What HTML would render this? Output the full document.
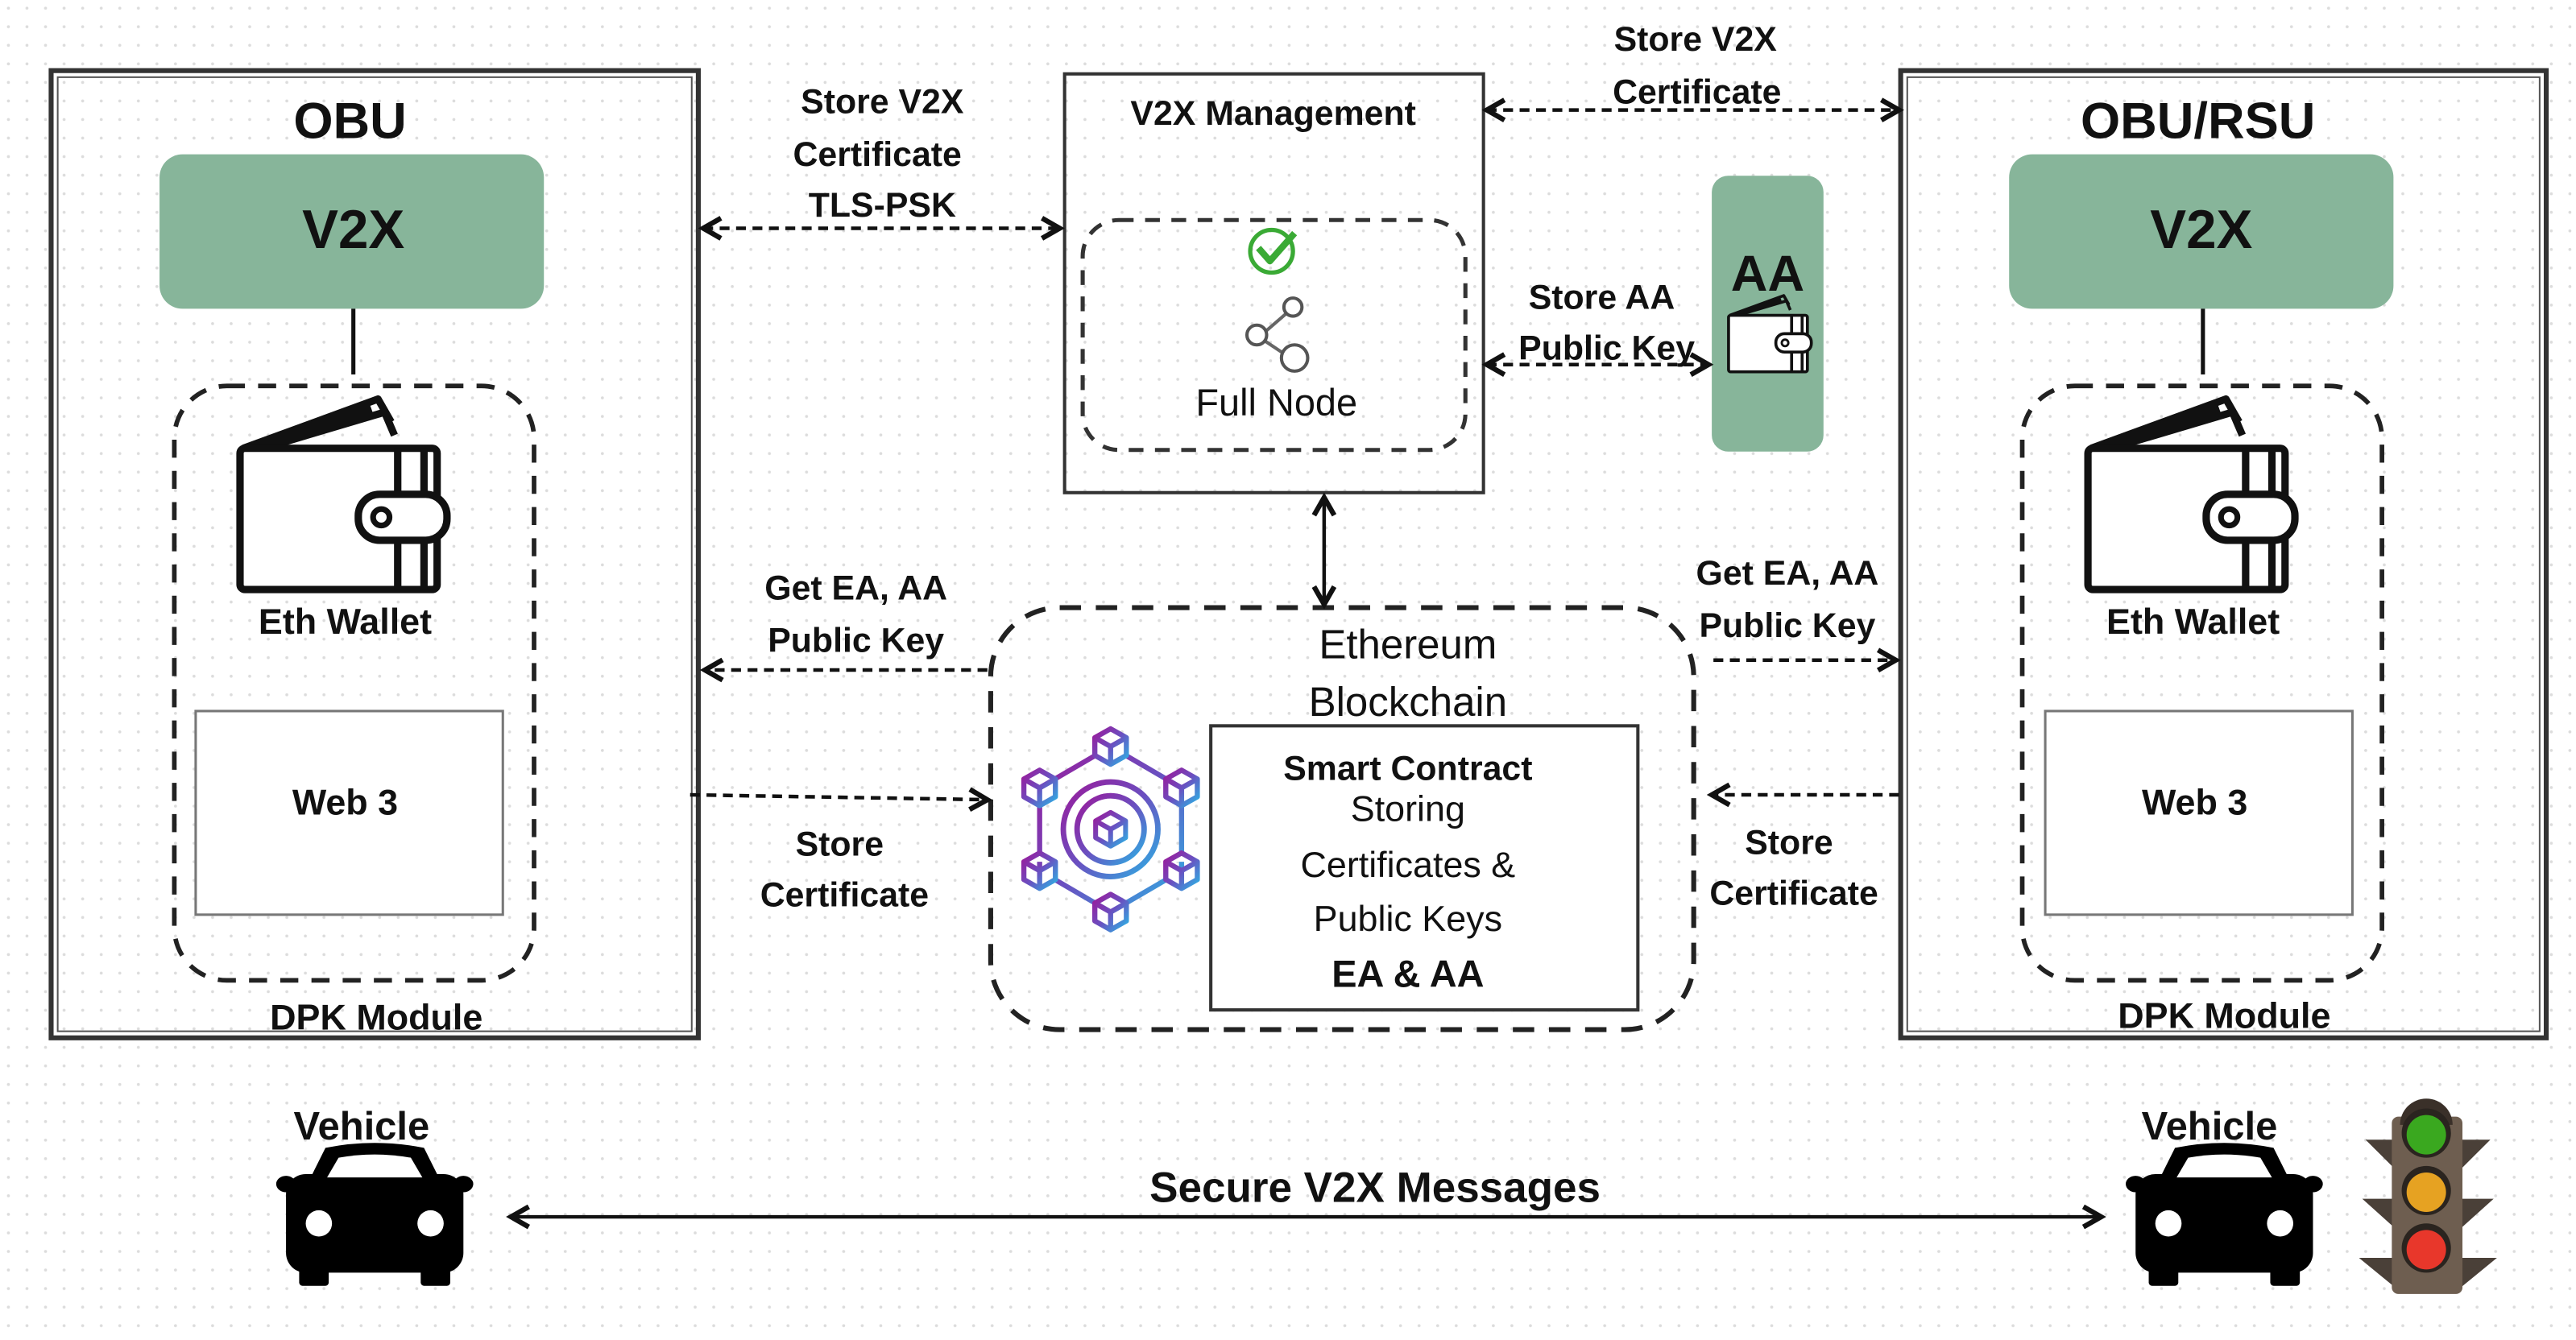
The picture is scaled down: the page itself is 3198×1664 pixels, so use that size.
<!DOCTYPE html>
<html><head><meta charset="utf-8"><style>
html,body{margin:0;padding:0;background:#fff;}
svg{display:block;}
text{font-family:"Liberation Sans",sans-serif;fill:#111;text-anchor:middle;}
.b{font-weight:bold;}
</style></head><body>
<svg width="3198" height="1664" viewBox="0 0 1568 816" xmlns="http://www.w3.org/2000/svg">
<defs>
<pattern id="dots" width="11.3" height="11.3" patternUnits="userSpaceOnUse">
<circle cx="5" cy="5" r="0.9" fill="#dcdcdc"/>
</pattern>
<linearGradient id="g" x1="0" y1="0" x2="1" y2="1">
<stop offset="0" stop-color="#9b1a9a"/><stop offset="0.5" stop-color="#6a4fc0"/><stop offset="1" stop-color="#2cb2e4"/>
</linearGradient>
<marker id="ah" viewBox="0 0 10 10" refX="8" refY="5" markerWidth="7" markerHeight="7" orient="auto-start-reverse">
<path d="M1,1 L8,5 L1,9" fill="none" stroke="#111" stroke-width="2"/>
</marker>
<g id="wallet">
<path d="M-60,30 L22,0 L30,14 M-50,30 L18,6 M-48,30 L26,8 L32,22" fill="none" stroke="#111" stroke-width="4.5" stroke-linejoin="round"/>
<rect x="-62" y="30" width="120" height="86" rx="3" fill="#fff" stroke="#111" stroke-width="4.5"/>
<line x1="34" y1="30" x2="34" y2="116" stroke="#111" stroke-width="4.5"/>
<line x1="50" y1="30" x2="50" y2="116" stroke="#111" stroke-width="4.5"/>
<rect x="10" y="58" width="54" height="28" rx="13" fill="#fff" stroke="#111" stroke-width="4.5"/>
<circle cx="24" cy="72" r="5" fill="none" stroke="#111" stroke-width="3.5"/>
</g>
<g id="car">
<path d="M-40,-18 L-30,-38 Q0,-44 30,-38 L40,-18 Z" fill="#000"/>
<rect x="-54" y="-22" width="108" height="60" rx="12" fill="#000"/>
<ellipse cx="-54" cy="-16" rx="6" ry="5" fill="#000"/><ellipse cx="54" cy="-16" rx="6" ry="5" fill="#000"/>
<path d="M-29,-20 L-22,-32 Q0,-36 22,-32 L29,-20 Z" fill="#fff"/>
<circle cx="-34" cy="8" r="8" fill="#fff"/><circle cx="34" cy="8" r="8" fill="#fff"/>
<rect x="-46" y="34" width="18" height="12" rx="2" fill="#000"/><rect x="28" y="34" width="18" height="12" rx="2" fill="#000"/>
</g>
<g id="cube"><path d="M0,-9 L8,-4.5 L8,4.5 L0,9 L-8,4.5 L-8,-4.5 Z M-8,-4.5 L0,0 L8,-4.5 M0,0 L0,9" fill="#fff" stroke="url(#g)" stroke-width="2.6" stroke-linejoin="round"/></g>
</defs>
<rect width="1568" height="816" fill="#fff"/>
<rect width="1568" height="816" fill="url(#dots)"/>

<rect x="31" y="43" width="394" height="589" fill="none" stroke="#333" stroke-width="3"/>
<rect x="35" y="47" width="386" height="581" fill="none" stroke="#555" stroke-width="1"/>
<text x="213" y="84" class="b" font-size="31">OBU</text>
<rect x="97" y="94" width="234" height="94" rx="14" fill="#87b59a"/>
<text x="215" y="151" class="b" font-size="33">V2X</text>
<line x1="215" y1="188" x2="215" y2="228" stroke="#111" stroke-width="2.5"/>
<rect x="106" y="235" width="219" height="362" rx="32" fill="none" stroke="#222" stroke-width="2.8" stroke-dasharray="11,8"/>
<use href="#wallet" x="208" y="243"/>
<text x="210" y="386" class="b" font-size="22">Eth Wallet</text>
<rect x="119" y="433" width="187" height="124" fill="#fff" stroke="#777" stroke-width="1.5"/>
<text x="210" y="496" class="b" font-size="22">Web 3</text>
<text x="229" y="627" class="b" font-size="22">DPK Module</text>

<rect x="1157" y="43" width="393" height="589" fill="none" stroke="#333" stroke-width="3"/>
<rect x="1161" y="47" width="385" height="581" fill="none" stroke="#555" stroke-width="1"/>
<text x="1338" y="84" class="b" font-size="31">OBU/RSU</text>
<rect x="1223" y="94" width="234" height="94" rx="14" fill="#87b59a"/>
<text x="1340" y="151" class="b" font-size="33">V2X</text>
<line x1="1341" y1="188" x2="1341" y2="228" stroke="#111" stroke-width="2.5"/>
<rect x="1231" y="235" width="219" height="362" rx="32" fill="none" stroke="#222" stroke-width="2.8" stroke-dasharray="11,8"/>
<use href="#wallet" x="1333" y="243"/>
<text x="1335" y="386" class="b" font-size="22">Eth Wallet</text>
<rect x="1245" y="433" width="187" height="124" fill="#fff" stroke="#777" stroke-width="1.5"/>
<text x="1336" y="496" class="b" font-size="22">Web 3</text>
<text x="1354" y="626" class="b" font-size="22">DPK Module</text>

<rect x="648" y="45" width="255" height="255" fill="none" stroke="#333" stroke-width="2"/>
<text x="775" y="76" class="b" font-size="21">V2X Management</text>
<rect x="659" y="134" width="233" height="140" rx="22" fill="none" stroke="#333" stroke-width="2.5" stroke-dasharray="9,7"/>
<circle cx="774" cy="153" r="13" fill="none" stroke="#3aaa35" stroke-width="2.6"/>
<path d="M766,151 L773,159 L788,142" fill="none" stroke="#3aaa35" stroke-width="4" stroke-linejoin="round"/>
<line x1="769" y1="203" x2="784" y2="190" stroke="#666" stroke-width="2"/>
<line x1="769" y1="207" x2="781" y2="215" stroke="#666" stroke-width="2"/>
<circle cx="787" cy="187" r="5.5" fill="#fff" stroke="#555" stroke-width="2"/>
<circle cx="765" cy="204" r="6" fill="#fff" stroke="#555" stroke-width="2"/>
<circle cx="788" cy="218" r="8" fill="#fff" stroke="#555" stroke-width="2"/>
<text x="777" y="253" font-size="23">Full Node</text>

<rect x="1042" y="107" width="68" height="168" rx="10" fill="#87b59a"/>
<text x="1076" y="177" class="b" font-size="31">AA</text>
<g transform="translate(1077,180) scale(0.4)"><use href="#wallet"/></g>

<rect x="603" y="370" width="428" height="257" rx="42" fill="none" stroke="#222" stroke-width="3" stroke-dasharray="13,9"/>
<text x="857" y="401" font-size="25" fill="#333">Ethereum</text>
<text x="857" y="436" font-size="25" fill="#333">Blockchain</text>
<rect x="737" y="442" width="260" height="173" fill="#fff" stroke="#333" stroke-width="2"/>
<text x="857" y="475" class="b" font-size="21">Smart Contract</text>
<text x="857" y="500" font-size="22" fill="#333">Storing</text>
<text x="857" y="534" font-size="22" fill="#333">Certificates &amp;</text>
<text x="857" y="567" font-size="22" fill="#333">Public Keys</text>
<text x="857" y="601" class="b" font-size="23">EA &amp; AA</text>

<g transform="translate(676,505) scale(1.2)">
<path d="M0,-42 L36,-21 L36,21 L0,42 L-36,21 L-36,-21 Z" fill="none" stroke="url(#g)" stroke-width="2.6"/>
<circle r="24" fill="#fff" stroke="url(#g)" stroke-width="2.8"/>
<circle r="17" fill="none" stroke="url(#g)" stroke-width="2.8"/>
<use href="#cube" transform="scale(0.95)"/>
<use href="#cube" x="0" y="-42"/><use href="#cube" x="36" y="-21"/><use href="#cube" x="36" y="21"/>
<use href="#cube" x="0" y="42"/><use href="#cube" x="-36" y="21"/><use href="#cube" x="-36" y="-21"/>
</g>

<g stroke="#111" stroke-width="2.2" stroke-dasharray="6,4" fill="none">
<line x1="428" y1="139" x2="645" y2="139" marker-start="url(#ah)" marker-end="url(#ah)"/>
<line x1="905" y1="67" x2="1156" y2="67" marker-start="url(#ah)" marker-end="url(#ah)"/>
<line x1="905" y1="222" x2="1040" y2="222" marker-start="url(#ah)" marker-end="url(#ah)"/>
<path d="M601,408 L429,408" marker-end="url(#ah)"/>
<line x1="420" y1="484" x2="601" y2="487" marker-end="url(#ah)"/>
<line x1="1043" y1="402" x2="1154" y2="402" marker-end="url(#ah)"/>
<line x1="1156" y1="484" x2="1042" y2="484" marker-end="url(#ah)"/>
</g>
<line x1="806" y1="303" x2="806" y2="368" stroke="#111" stroke-width="2.2" marker-start="url(#ah)" marker-end="url(#ah)"/>
<line x1="311" y1="741" x2="1279" y2="741" stroke="#111" stroke-width="2.2" marker-start="url(#ah)" marker-end="url(#ah)"/>

<g font-size="21">
<text x="537" y="69" class="b">Store V2X</text>
<text x="534" y="101" class="b">Certificate</text>
<text x="537" y="132" class="b">TLS-PSK</text>
<text x="1032" y="31" class="b">Store V2X</text>
<text x="1033" y="63" class="b">Certificate</text>
<text x="975" y="188" class="b">Store AA</text>
<text x="978" y="219" class="b">Public Key</text>
<text x="521" y="365" class="b">Get EA, AA</text>
<text x="521" y="397" class="b">Public Key</text>
<text x="511" y="521" class="b">Store</text>
<text x="514" y="552" class="b">Certificate</text>
<text x="1088" y="356" class="b">Get EA, AA</text>
<text x="1088" y="388" class="b">Public Key</text>
<text x="1089" y="520" class="b">Store</text>
<text x="1092" y="551" class="b">Certificate</text>
</g>

<text x="220" y="694" class="b" font-size="24">Vehicle</text>
<text x="1345" y="694" class="b" font-size="24">Vehicle</text>
<text x="837" y="732" class="b" font-size="26">Secure V2X Messages</text>
<use href="#car" x="228" y="737"/>
<use href="#car" x="1354" y="737"/>

<g>
<path d="M1440,694 L1458,694 L1458,712 Z M1516,694 L1498,694 L1498,712 Z M1438,730 L1458,730 L1458,748 Z M1518,730 L1498,730 L1498,748 Z M1436,766 L1458,766 L1458,784 Z M1520,766 L1498,766 L1498,784 Z" fill="#4a4038"/>
<rect x="1456" y="680" width="43" height="108" rx="4" fill="#6e5e50"/>
<path d="M1461,685 a16,16 0 0 1 32,0 Z" fill="#3a3029"/>
<circle cx="1477" cy="690" r="15" fill="#2a241f"/><circle cx="1477" cy="691" r="12" fill="#3aa81f"/>
<circle cx="1477" cy="725" r="15" fill="#2a241f"/><circle cx="1477" cy="726" r="12" fill="#e6a222"/>
<circle cx="1477" cy="760" r="15" fill="#2a241f"/><circle cx="1477" cy="761" r="12" fill="#e8372b"/>
</g>
</svg>
</body></html>
